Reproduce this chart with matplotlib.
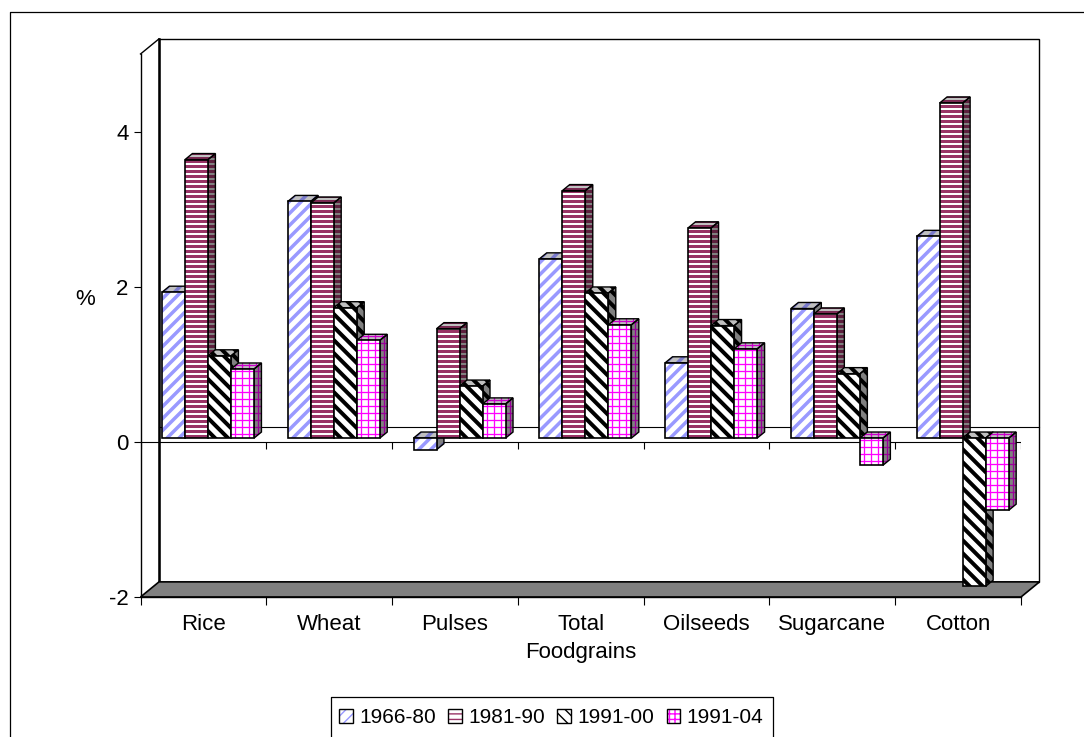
import numpy as np
import matplotlib
matplotlib.use('Agg')
import matplotlib.pyplot as plt
from matplotlib.patches import Polygon, Rectangle
from matplotlib.collections import LineCollection
from matplotlib.lines import Line2D
from matplotlib.colors import to_rgb

plt.rcParams['font.family'] = ['Liberation Sans', 'DejaVu Sans']
plt.rcParams['axes.unicode_minus'] = False

categories = ['Rice', 'Wheat', 'Pulses', 'Total\nFoodgrains', 'Oilseeds', 'Sugarcane', 'Cotton']
periods = ['1966-80', '1981-90', '1991-00', '1991-04']
s1966_80 = [1.88, 3.05, -0.15, 2.31, 0.97, 1.67, 2.60]
s1981_90 = [3.59, 3.03, 1.41, 3.19, 2.71, 1.60, 4.32]
s1991_00 = [1.06, 1.68, 0.67, 1.87, 1.45, 0.83, -1.91]
s1991_04 = [0.89, 1.26, 0.44, 1.46, 1.15, -0.35, -0.93]
series = [s1966_80, s1981_90, s1991_00, s1991_04]

colors = ['#9999FF', '#993366', '#000000', '#FF00FF']
patterns = ['/', '-', '\\', '+']
# (period px, line width px) of each fill pattern
pat_size = [(12, 3.5), (5, 3.0), (13, 4.0), (7, 1.3)]

# fake 3d box: full depth offset in data units, bar front depth and bar depth
DX, DY = 0.147, 0.195
F0 = 0.25
FD = 0.4
bar_w = 0.183

W, H = 1084, 737
fig = plt.figure(figsize=(W / 100, H / 100), dpi=100)
ax = fig.add_axes([140.5 / W, 1 - 597 / H, 880.5 / W, 543 / H])
ax.set_xlim(0, 7)
ax.set_ylim(-2, 5)


def shade(c, f):
    return tuple(np.array(to_rgb(c)) * f)


def stripes(face, kind, color, period, lw):
    ext = face.get_window_extent()
    x0, y0, x1, y1 = ext.x0 - 3, ext.y0 - 3, ext.x1 + 3, ext.y1 + 3
    segs = []
    if kind in ('-', '+'):
        for y in np.arange(y0, y1, period):
            segs.append([(x0, y), (x1, y)])
    if kind == '+':
        for x in np.arange(x0, x1, period):
            segs.append([(x, y0), (x, y1)])
    if kind == '/':
        for c in np.arange(y0 - x1, y1 - x0, period):
            segs.append([(x0, x0 + c), (x1, x1 + c)])
    if kind == '\\':
        for c in np.arange(x0 + y0, x1 + y1, period):
            segs.append([(x0, c - x0), (x1, c - x1)])
    inv = ax.transData.inverted()
    segs = [inv.transform(np.array(s)) for s in segs]
    lc = LineCollection(segs, colors=[color], linewidths=lw * 0.72,
                        zorder=face.get_zorder() + 0.01, capstyle='butt')
    ax.add_collection(lc)
    lc.set_clip_path(face)


# walls and floor
back = Polygon([(DX, -2 + DY), (7 + DX, -2 + DY), (7 + DX, 5 + DY), (DX, 5 + DY)],
               closed=True, facecolor='white', edgecolor='black', lw=1.0,
               clip_on=False, zorder=0.5)
ax.add_patch(back)
ax.plot([DX, DX], [-2 + DY, 5 + DY], color='black', lw=1.8, clip_on=False, zorder=0.6)
ax.plot([0, DX], [5, 5 + DY], color='black', lw=1.0, clip_on=False, zorder=0.6)
floor = Polygon([(0, -2), (7, -2), (7 + DX, -2 + DY), (DX, -2 + DY)], closed=True,
                facecolor='#808080', edgecolor='black', lw=1.2, clip_on=False, zorder=0.7)
ax.add_patch(floor)

# zero lines on back wall and front
ax.plot([DX, 7 + DX], [DY, DY], color='black', lw=0.8, clip_on=False, zorder=0.8)
ax.plot([0, 7], [0, 0], color='black', lw=0.8, zorder=0.8)
ax.vlines(np.arange(8), -0.09, 0, color='black', lw=0.8, zorder=0.8)

ddx, ddy = FD * DX, FD * DY
for k, vals in enumerate(series):
    xs = np.arange(len(categories)) + 0.5 - 2 * bar_w + k * bar_w + F0 * DX
    bars = ax.bar(xs, vals, width=bar_w, bottom=F0 * DY, align='edge',
                  color='white', edgecolor='none')
    per, lw = pat_size[k]
    for i, rect in enumerate(bars):
        z = 10 + (i * 4 + k)
        rect.set_zorder(z + 0.5)
        x, b = rect.get_x(), rect.get_y()
        h = rect.get_height()
        lo, hi = min(b, b + h), max(b, b + h)
        top = Polygon([(x, hi), (x + bar_w, hi), (x + bar_w + ddx, hi + ddy), (x + ddx, hi + ddy)],
                      closed=True, facecolor='#C0C0C0', edgecolor='none', zorder=z)
        side = Polygon([(x + bar_w, lo), (x + bar_w, hi), (x + bar_w + ddx, hi + ddy),
                        (x + bar_w + ddx, lo + ddy)],
                       closed=True, facecolor='#808080', edgecolor='none', zorder=z + 0.2)
        ax.add_patch(top)
        ax.add_patch(side)
        stripes(top, patterns[k], shade(colors[k], 0.8), per, lw)
        stripes(side, patterns[k], shade(colors[k], 0.6), per, lw)
        stripes(rect, patterns[k], colors[k], per, lw)
        for p in (top, side):
            ax.add_patch(Polygon(p.get_xy(), closed=True, fill=False, edgecolor='black',
                                 lw=1.0, zorder=z + 0.4))
        ax.add_patch(Rectangle((x, b), bar_w, h, fill=False, edgecolor='black',
                               lw=1.2, zorder=z + 0.6))

# axes
for s in ('top', 'right'):
    ax.spines[s].set_visible(False)
ax.spines['left'].set_linewidth(1.0)
ax.spines['bottom'].set_linewidth(1.0)
ax.set_yticks([-2, 0, 2, 4])
ax.tick_params(axis='y', direction='out', length=5, width=0.8, pad=3.5, labelsize=16)
ax.set_xticks(np.arange(8))
ax.set_xticklabels([])
ax.tick_params(axis='x', which='major', direction='out', length=6, width=0.8)
ax.set_xticks(np.arange(len(categories)) + 0.5, minor=True)
ax.set_xticklabels(categories, minor=True, fontsize=16, linespacing=1.4)
ax.tick_params(axis='x', which='minor', length=0, pad=12.5)
fig.text(85 / W, 1 - 300 / H, '%', fontsize=16, ha='center', va='center')

# legend
handles = []
for c, p in zip(colors, patterns):
    h1 = Rectangle((0, 0), 1, 1, facecolor='white', edgecolor=c, hatch=p * 3, lw=0)
    h2 = Rectangle((0, 0), 1, 1, fill=False, edgecolor='black', lw=1.0)
    handles.append((h1, h2))
fig.legend(handles, periods, loc='upper left', bbox_to_anchor=(331 / W, 1 - 700 / H),
           ncol=4, frameon=False, fontsize=15, handlelength=0.65, handleheight=0.65,
           handletextpad=0.3, columnspacing=0.6, borderpad=0.4, borderaxespad=0)
fig.add_artist(Line2D(np.array([331, 331, 773, 773]) / W, 1 - np.array([740, 697, 697, 740]) / H,
                      transform=fig.transFigure, color='black', lw=0.9))
# outer chart border
fig.add_artist(Line2D(np.array([9.5, 9.5, 1090]) / W, 1 - np.array([740, 12, 12]) / H,
                      transform=fig.transFigure, color='black', lw=0.9))

fig.savefig('out.png', dpi=100, facecolor='white')
